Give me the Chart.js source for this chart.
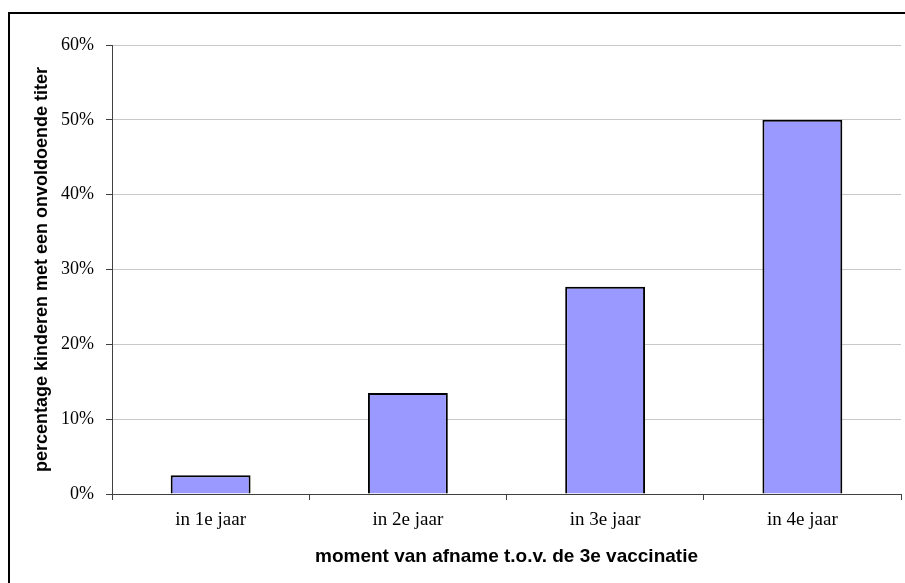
<!DOCTYPE html>
<html>
<head>
<meta charset="utf-8">
<script src="https://cdn.jsdelivr.net/npm/chart.js@4"></script>
<style>
  html, body { margin: 0; padding: 0; background: #fff; overflow: hidden; }
  #wrap { position: relative; width: 905px; height: 583px; }
  #frame { position: absolute; left: 8px; top: 12px; width: 1000px; height: 1000px; border: 2px solid #000; box-sizing: border-box; pointer-events: none; }
</style>
</head>
<body>
<div id="wrap">
  <canvas id="myChart" width="905" height="583"></canvas>
  <div id="frame"></div>
</div>
<script>
  // categorieën en waarden (percentage kinderen met onvoldoende titer)
  const categories = ['in 1e jaar', 'in 2e jaar', 'in 3e jaar', 'in 4e jaar']
  const percentages = [2.5, 13.5, 27.7, 50]

  const ctx = document.getElementById('myChart')

  new Chart(ctx, {
    type: 'bar',
    data: {
      labels: categories,
      datasets: [
        {
          data: percentages,
          backgroundColor: '#9999ff',
          borderColor: '#000000',
          borderWidth: 2,
          categoryPercentage: 1,
          barPercentage: 0.405
        }
      ]
    },
    options: {
      responsive: false,
      animation: false,
      layout: { padding: { top: 45, right: 4, left: 0, bottom: 0 } },
      plugins: {
        legend: { display: false },
        tooltip: { enabled: false }
      },
      scales: {
        x: {
          afterFit: (scale) => { scale.height = 89 },
          grid: {
            drawOnChartArea: false,
            offset: true,
            tickLength: 6,
            color: '#404040',
            lineWidth: 1
          },
          border: { color: '#404040', width: 1 },
          ticks: {
            color: '#000',
            font: { family: '"Liberation Serif", "Times New Roman", serif', size: 19 },
            padding: 9
          },
          title: {
            display: true,
            text: 'moment van afname t.o.v. de 3e vaccinatie',
            color: '#000',
            font: { family: '"Liberation Sans", Arial, sans-serif', size: 19, weight: 'bold' },
            padding: { top: 0, bottom: 15 }
          }
        },
        y: {
          min: 0,
          max: 60,
          afterFit: (scale) => { scale.width = 112 },
          grid: {
            color: '#c8c8c8',
            tickColor: '#404040',
            tickLength: 6,
            lineWidth: 1
          },
          border: { color: '#404040', width: 1 },
          ticks: {
            stepSize: 10,
            color: '#000',
            font: { family: '"Liberation Serif", "Times New Roman", serif', size: 18 },
            padding: 12,
            callback: (v) => v + '%'
          },
          title: {
            display: true,
            text: 'percentage kinderen met een onvoldoende titer',
            color: '#000',
            font: { family: '"Liberation Sans", Arial, sans-serif', size: 18, weight: 'bold' },
            padding: { top: 31, bottom: 0 }
          }
        }
      }
    }
  })
</script>
</body>
</html>
